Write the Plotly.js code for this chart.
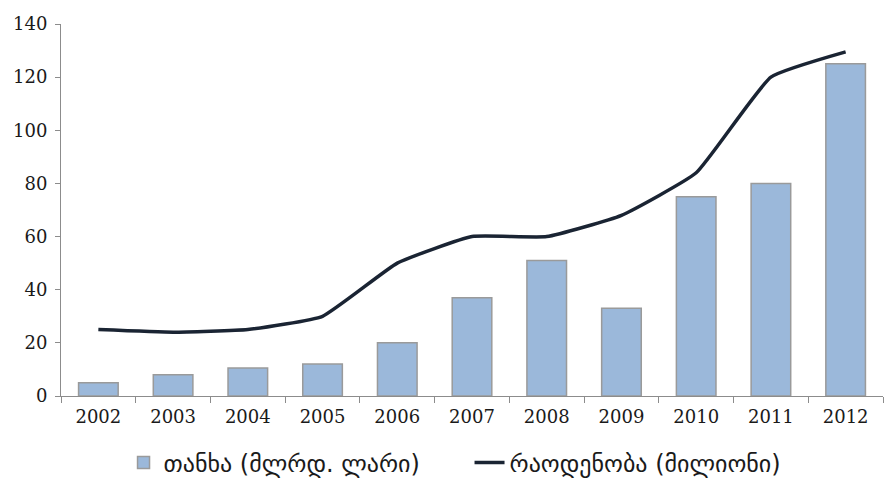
<!DOCTYPE html>
<html>
<head>
<meta charset="utf-8">
<script src="https://cdn.plot.ly/plotly-3.0.1.min.js"></script>
<style>html,body{margin:0;padding:0;background:#fff;}#chart{width:884px;height:486px;}</style>
</head>
<body>
<div id="chart"></div>
<script>
const years = ["2002","2003","2004","2005","2006","2007","2008","2009","2010","2011","2012"];
const amount = [5, 8, 10.5, 12, 20, 37, 51, 33, 75, 80, 125];
const count = [25, 24, 25, 30, 50, 60, 60, 68, 84, 120, 129.5];
const amountName = "თანხა (მლრდ. ლარი)";
const countName = "რაოდენობა (მილიონი)";
const yTicks = [0, 20, 40, 60, 80, 100, 120, 140];

const traces = [
  {
    type: "bar", x: years, y: amount, name: amountName,
    marker: {color: "#9bb8da", line: {color: "#9a9a9a", width: 1.5}},
    width: 0.53
  },
  {
    type: "scatter", mode: "lines", x: years, y: count, name: countName,
    line: {color: "#1a2433", width: 3.5, shape: "spline", smoothing: 0.4}
  }
];

const layout = {
  width: 884, height: 486,
  margin: {l: 61, r: 1, t: 24, b: 88},
  paper_bgcolor: "#fff", plot_bgcolor: "#fff",
  font: {family: "DejaVu Serif, Liberation Serif, serif", size: 18, color: "#1a1a1a"},
  showlegend: true,
  bargap: 0.47,
  xaxis: {
    type: "category", showgrid: false, zeroline: false,
    showline: true, linecolor: "#8c8c8c", linewidth: 1,
    ticks: "outside", tickson: "boundaries", ticklen: 6, tickcolor: "#8c8c8c",
    tickfont: {size: 18}, ticklabelstandoff: 4
  },
  yaxis: {
    range: [0, 140], tickvals: yTicks, showgrid: false, zeroline: false,
    showline: true, linecolor: "#8c8c8c", linewidth: 1,
    ticks: "outside", ticklen: 5, tickcolor: "#8c8c8c",
    tickfont: {size: 18}, ticklabelstandoff: 4
  },
  legend: {
    orientation: "h", x: 0.497, xanchor: "center", y: -0.18, yanchor: "middle",
    entrywidth: 301, entrywidthmode: "pixels",
    font: {family: "DejaVu Sans, sans-serif", size: 24, color: "#1a1a1a"},
    traceorder: "normal"
  }
};

Plotly.newPlot("chart", traces, layout, {displayModeBar: false, staticPlot: true});
</script>
</body>
</html>
